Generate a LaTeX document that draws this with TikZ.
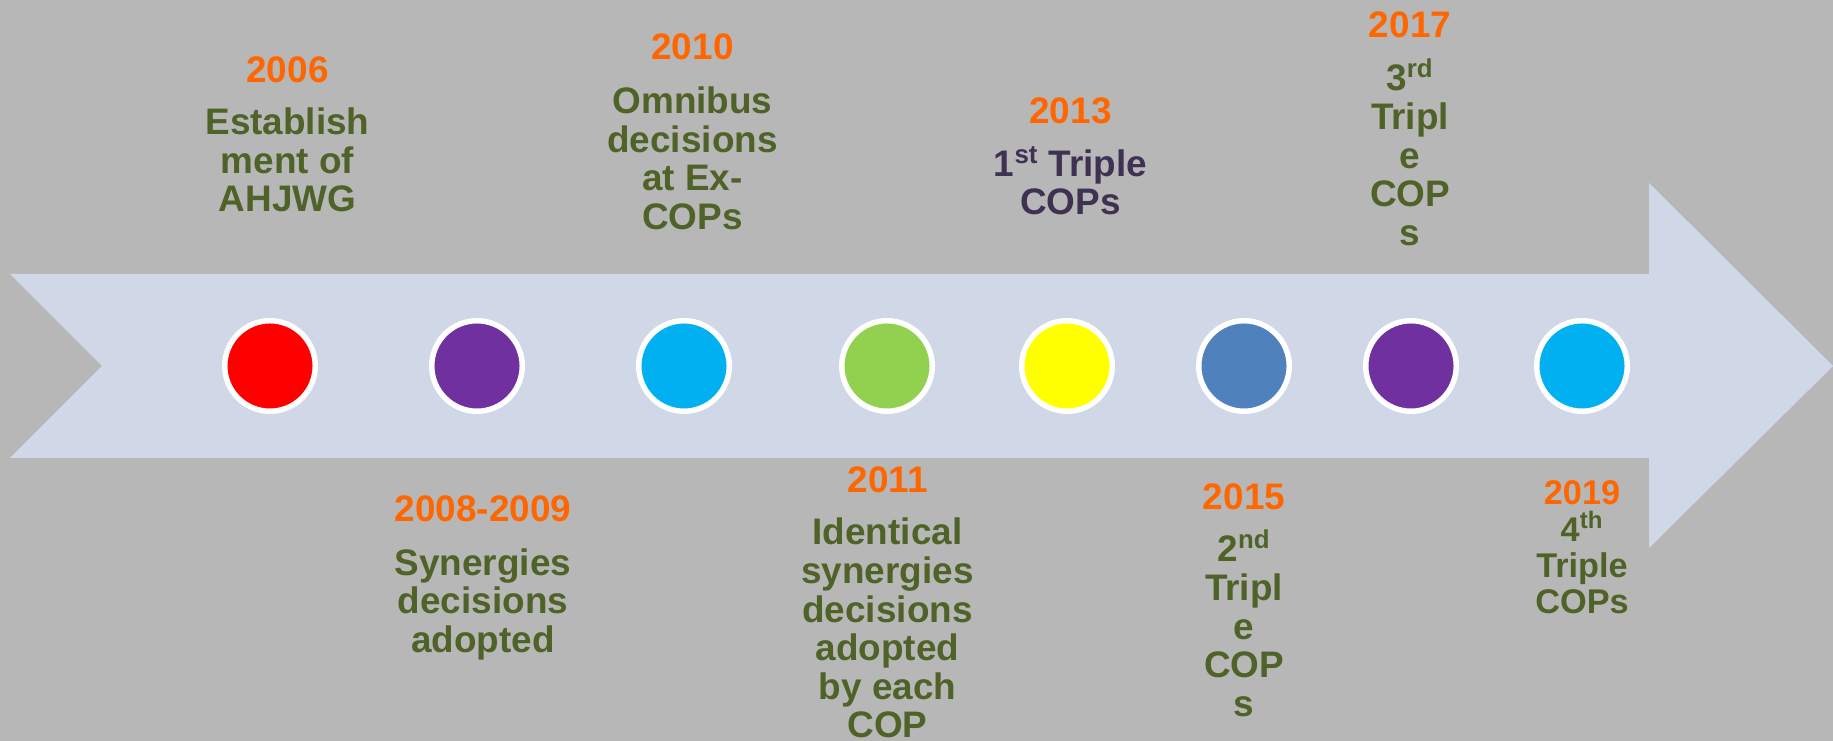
\documentclass[tikz,border=0pt]{standalone}
\usepackage{fontspec}
\setmainfont{Liberation Sans}
\usepackage{tikz}
\definecolor{bggray}{RGB}{183,183,183}
\definecolor{arrowblue}{RGB}{208,216,232}
\definecolor{yearorange}{RGB}{255,102,0}
\definecolor{textgreen}{RGB}{79,98,40}
\definecolor{textplum}{RGB}{63,49,81}
\definecolor{dotred}{RGB}{255,0,0}
\definecolor{dotpurple}{RGB}{112,48,160}
\definecolor{dotcyan}{RGB}{0,176,240}
\definecolor{dotgreen}{RGB}{146,208,80}
\definecolor{dotyellow}{RGB}{255,255,0}
\definecolor{dotblue}{RGB}{79,129,189}

\begin{document}
\begin{tikzpicture}[x=1cm, y=1cm,
		dot/.style={circle, draw=white, line width=3.1pt, minimum size=1.81cm, inner sep=0pt},
		year/.style={anchor=base, inner sep=0pt, text=yearorange, font=\fontsize{21}{22}\selectfont\bfseries},
		event/.style={anchor=base, inner sep=0pt, align=center, text=textgreen, font=\fontsize{21}{22}\selectfont\bfseries},
		small/.style={font=\fontsize{19.5}{20.5}\selectfont\bfseries}]
	\useasboundingbox (0,0) rectangle (36.66,14.82);
	\clip (0,0) rectangle (36.66,14.82);
	\fill[bggray] (0,0) rectangle (36.66,14.82);
	% the big arrow with the notch at its tail
	\fill[arrowblue] (0.2,9.34) -- (2.04,7.5) -- (0.2,5.66) -- (32.98,5.66) -- (32.98,3.86)
		-- (36.66,7.5) -- (32.98,11.16) -- (32.98,9.34) -- cycle;
	\foreach \x/\c [count=\i] in {5.4/dotred, 9.54/dotpurple, 13.68/dotcyan, 17.74/dotgreen,
			21.34/dotyellow, 24.88/dotblue, 28.22/dotpurple, 31.64/dotcyan}
		\node[dot, fill=\c] (dot\i) at (\x,7.5) {};

	% above the arrow (event nodes sit on the baseline of their last line)
	\node[year] (y2006) at (5.75,13.17) {2006};
	\node[event] (e2006) at (5.75,10.58) {Establish\\ment of\\AHJWG};
	\node[year] (y2010) at (13.85,13.62) {2010};
	\node[event] (e2010) at (13.85,10.23) {Omnibus\\decisions\\at Ex-\\COPs};
	\node[year] (y2013) at (21.41,12.35) {2013};
	\node[event, text=textplum] (e2013) at (21.41,10.52) {1\textsuperscript{st} Triple\\COPs};
	\node[year] (y2017) at (28.2,14.07) {2017};
	\node[event] (e2017) at (28.2,9.91) {3\textsuperscript{rd}\\Tripl\\e\\COP\\s};

	% below the arrow
	\node[year] (y2008) at (9.66,4.39) {2008-2009};
	\node[event] (e2008) at (9.66,1.77) {Synergies\\decisions\\adopted};
	\node[year] (y2011) at (17.75,4.97) {2011};
	\node[event] (e2011) at (17.75,0.06) {Identical\\synergies\\decisions\\adopted\\by each\\COP};
	\node[year] (y2015) at (24.88,4.63) {2015};
	\node[event] (e2015) at (24.88,0.49) {2\textsuperscript{nd}\\Tripl\\e\\COP\\s};
	\node[year, small] (y2019) at (31.64,4.72) {2019};
	\node[event, small] (e2019) at (31.64,2.55) {4\textsuperscript{th}\\Triple\\COPs};
\end{tikzpicture}
\end{document}
